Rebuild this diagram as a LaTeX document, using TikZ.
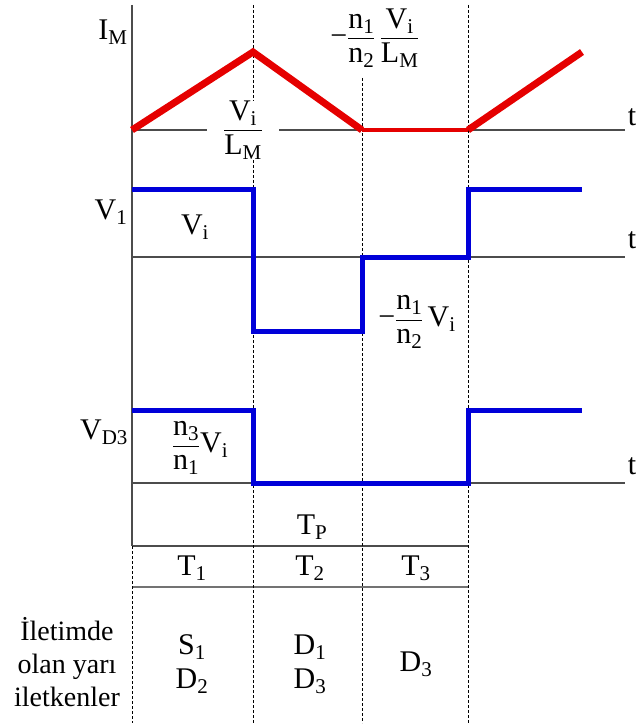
\documentclass[tikz,border=0pt]{standalone}
\usepackage{amsmath}
\usepackage{fontspec}
\setmainfont{Liberation Serif}
\usetikzlibrary{positioning}

\begin{document}
\begin{tikzpicture}[
    x=1pt, y=-1pt,
    axis/.style={
        draw=black!70,
        line width=1.4pt
    },
    guide/.style={
        draw=black,
        line width=1pt,
        dash pattern=on 3pt off 2pt
    },
    im_wave/.style={
        draw=red!90!black,
        line width=7pt
    },
    v_wave/.style={
        draw=blue!85!black,
        line width=5pt
    },
    lbl/.style={
        font=\fontsize{30}{34}\selectfont,
        inner sep=1pt,
        align=center
    }
]
    \useasboundingbox (0,0) rectangle (638,727);

    % ====== eksenler ======
    \draw[axis] (132,5) -- (132,546);
    \draw[axis] (132,130) -- (625,130);
    \draw[axis] (132,257) -- (625,257);
    \draw[axis] (132,483) -- (625,483);
    \draw[axis] (132,546) -- (468,546);
    \draw[axis, draw=black!55, line width=2.4pt] (132,587) -- (468,587);

    % kesikli ayirma cizgileri
    \draw[guide] (253,5) -- (253,723);
    \draw[guide] (362,78) -- (362,723);
    \draw[guide] (468,5) -- (468,723);
    \draw[guide] (132,546) -- (132,723);

    % ====== I_M akimi ======
    \draw[im_wave] (132,130) -- (253,52) -- (362,130);
    \draw[im_wave, line width=4pt] (362,130) -- (468,130);
    \draw[im_wave] (468,130) -- (582,52);

    \node[lbl] (im_name) at (113,32) {I\textsubscript{M}};
    \node[lbl] (im_t) at (632,117) {t};
    \node[lbl, fill=white, inner xsep=16pt, inner ysep=0pt] (im_rise) at (243,130)
        {$\dfrac{\text{V}_\text{i}}{\text{L}_\text{M}}$};
    \node[lbl] (im_fall) at (375,38)
        {$\text{−}\dfrac{\text{n}_\text{1}}{\text{n}_\text{2}}\,\dfrac{\text{V}_\text{i}}{\text{L}_\text{M}}$};

    % ====== V_1 gerilimi ======
    \draw[v_wave] (132,190) -- (253,190) -- (253,331) -- (362,331)
        -- (362,257) -- (468,257) -- (468,190) -- (582,190);

    \node[lbl] (v1_name) at (111,212) {V\textsubscript{1}};
    \node[lbl] (v1_t) at (632,240) {t};
    \node[lbl] (v1_high) at (195,227) {V\textsubscript{i}};
    \node[lbl] (v1_low) at (417,322)
        {$\text{−}\dfrac{\text{n}_\text{1}}{\text{n}_\text{2}}\,\text{V}_\text{i}$};

    % ====== V_D3 gerilimi ======
    \draw[v_wave] (132,410) -- (253,410) -- (253,483) -- (468,483)
        -- (468,410) -- (582,410);

    \node[lbl] (vd_name) at (104,432) {V\textsubscript{D3}};
    \node[lbl] (vd_t) at (632,466) {t};
    \node[lbl] (vd_high) at (200,448)
        {$\dfrac{\text{n}_\text{3}}{\text{n}_\text{1}}\text{V}_\text{i}$};

    % ====== periyot tablosu ======
    \node[lbl] (tp) at (312,527) {T\textsubscript{P}};
    \node[lbl] (t1) at (192,568) {T\textsubscript{1}};
    \node[lbl] (t2) at (310,568) {T\textsubscript{2}};
    \node[lbl] (t3) at (416,568) {T\textsubscript{3}};

    \node[lbl, font=\fontsize{28}{33}\selectfont] (semi) at (67,662) {İletimde\\olan yarı\\iletkenler};
    \node[lbl] (s_t1) at (192,664) {S\textsubscript{1}\\D\textsubscript{2}};
    \node[lbl] (s_t2) at (310,664) {D\textsubscript{1}\\D\textsubscript{3}};
    \node[lbl] (s_t3) at (416,664) {D\textsubscript{3}};
\end{tikzpicture}
\end{document}
